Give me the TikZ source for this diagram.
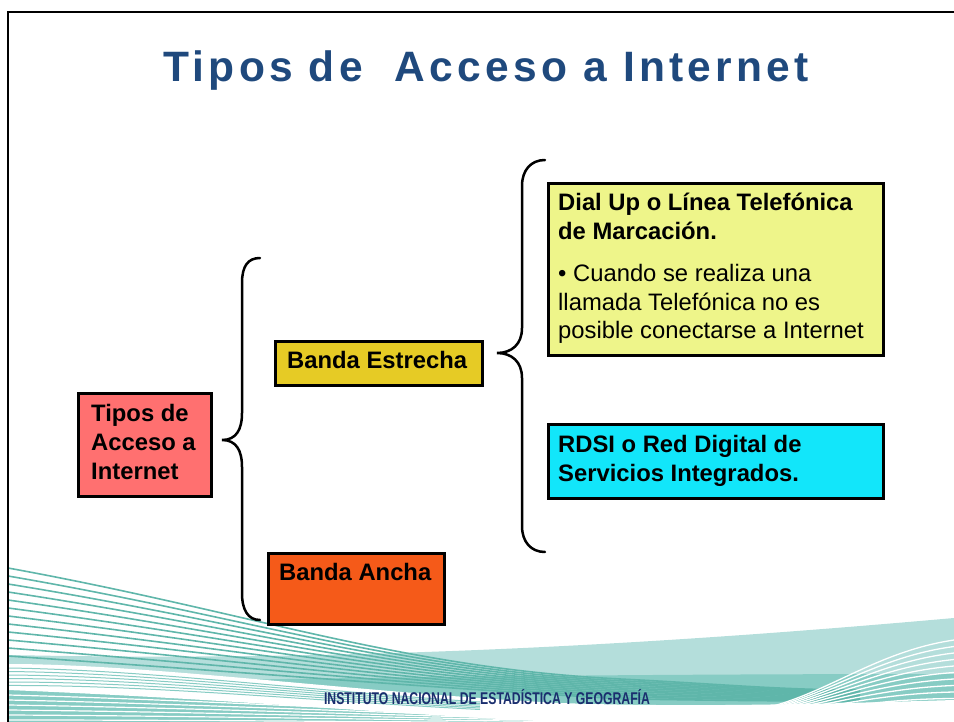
\documentclass[tikz,border=0pt]{standalone}
\usepackage{fontspec}
\setmainfont{Liberation Sans}
\newfontfamily\titlefont[LetterSpace=10]{Liberation Sans}
\definecolor{titleblue}{RGB}{31,73,125}
\definecolor{tiposred}{RGB}{255,112,112}
\definecolor{estrecha}{RGB}{230,203,37}
\definecolor{ancha}{RGB}{245,90,25}
\definecolor{dialup}{RGB}{238,245,138}
\definecolor{rdsi}{RGB}{18,230,250}
\definecolor{tealL}{RGB}{180,222,219}
\definecolor{tealM}{RGB}{135,204,196}
\definecolor{tealD}{RGB}{95,182,170}
\definecolor{footblue}{RGB}{26,46,110}
\begin{document}
\begin{tikzpicture}[x=1pt,y=-1pt,
  box/.style={draw=black, line width=3pt, anchor=north west, inner sep=0pt},
  txt/.style={anchor=base west, inner sep=0pt, font=\fontsize{23.8}{29}\selectfont\bfseries},
  bodytxt/.style={anchor=base west, inner sep=0pt, font=\fontsize{23.8}{28.5}\selectfont},
  bracestyle/.style={line width=2.5pt, line cap=round},
  fan/.style={draw=tealD, line width=1.6pt},
  wline/.style={draw=white, line width=1.3pt}]
\useasboundingbox (0,0) rectangle (954,722);
% ---------- background waves ----------
\fill[tealL] (8,655) .. controls (350,662) and (650,645) .. (954,618) -- (954,722) -- (8,722) -- cycle;
\fill[tealM] (8,684) .. controls (300,678) and (600,674) .. (954,674) -- (954,722) -- (8,722) -- cycle;
\fill[white] (8,664) .. controls (150,664) and (350,692) .. (560,703) .. controls (700,708) and (850,703) .. (954,700)
   -- (954,722) -- (560,722) .. controls (400,715) and (250,700) .. (8,690) -- cycle;
\foreach \i in {0,...,5}{
  \draw[tealM, line width=1pt] (8,668+3.5*\i) .. controls (150,670+3*\i) and (300,690+2*\i) .. (480,702+1.5*\i);
  \draw[white, line width=1.2pt] (8,695+5*\i) .. controls (200,700+4*\i) and (400,712+2*\i) .. (600,718+1*\i);
}
\foreach \i in {0,...,11}{
  \draw[fan] (8,568+8*\i) .. controls (250,612+5.5*\i) and (400,668+1.6*\i) .. (620,679+1.8*\i)
     .. controls (720,684+1.5*\i) and (780,690+1*\i) .. (860,690+1*\i);
}
\foreach \i in {0,...,10}{
  \draw[wline] (720,714+0.6*\i) .. controls (810,712+0.4*\i) and (860,654+5*\i) .. (954,640+6.5*\i);
}
% ---------- frame ----------
\draw[line width=2.5pt] (8,722) -- (8,12) -- (954,12);
% ---------- title ----------
\node[anchor=base, inner sep=0pt, font=\titlefont\fontsize{42.5}{50}\selectfont\bfseries, text=titleblue]
  (title) at (486,82) {Tipos de\ \ Acceso a Internet};
% ---------- boxes ----------
\node[box, fill=tiposred, minimum width=133pt, minimum height=103pt] (tipos) at (77,392) {};
\node[box, fill=estrecha, minimum width=207pt, minimum height=44pt] (estrecha) at (274,340) {};
\node[box, fill=ancha, minimum width=176pt, minimum height=71pt] (ancha) at (267,552) {};
\node[box, fill=dialup, minimum width=335pt, minimum height=172pt] (dial) at (547,182) {};
\node[box, fill=rdsi, minimum width=335pt, minimum height=74pt] (rdsi) at (547,423) {};
% ---------- texts ----------
\node[txt] (tiposT) at (91,421) {\parbox[t]{120pt}{Tipos de\\Acceso a\\Internet}};
\node[txt] (estrechaT) at (287,369) {Banda Estrecha};
\node[txt] (anchaT) at (279,580) {Banda Ancha};
\node[txt] (dialT) at (558,211) {\parbox[t]{320pt}{Dial Up o Línea Telefónica\\de Marcación.}};
\node[bodytxt] (dialB) at (558,282) {\parbox[t]{320pt}{\fontsize{23.8}{28.5}\selectfont • Cuando se realiza una\\llamada Telefónica no es\\posible conectarse a Internet}};
\node[txt] (rdsiT) at (558,452) {\parbox[t]{320pt}{RDSI o Red Digital de\\Servicios Integrados.}};
% ---------- braces ----------
\coordinate (b1tip) at (222,440);
\coordinate (b2tip) at (497,353);
\draw[bracestyle] (260,258) .. controls (248,258) and (242,266) .. (242,283) -- (242,413)
  .. controls (242,430) and (236,440) .. (b1tip) .. controls (236,440) and (242,450) .. (242,467)
  -- (242,593) .. controls (242,610) and (248,620) .. (260,620);
\draw[bracestyle] (545,160) .. controls (531,160) and (522,170) .. (522,186) -- (522,328)
  .. controls (522,344) and (512,353) .. (b2tip) .. controls (512,353) and (522,362) .. (522,378)
  -- (522,526) .. controls (522,542) and (531,552) .. (545,552);
% ---------- footer ----------
\node[anchor=base, inner sep=0pt, font=\bfseries\fontsize{17}{17}\selectfont, text=footblue] (footer) at (487,704)
  {\scalebox{0.72}[1]{INSTITUTO NACIONAL DE ESTADÍSTICA Y GEOGRAFÍA}};
\end{tikzpicture}
\end{document}
